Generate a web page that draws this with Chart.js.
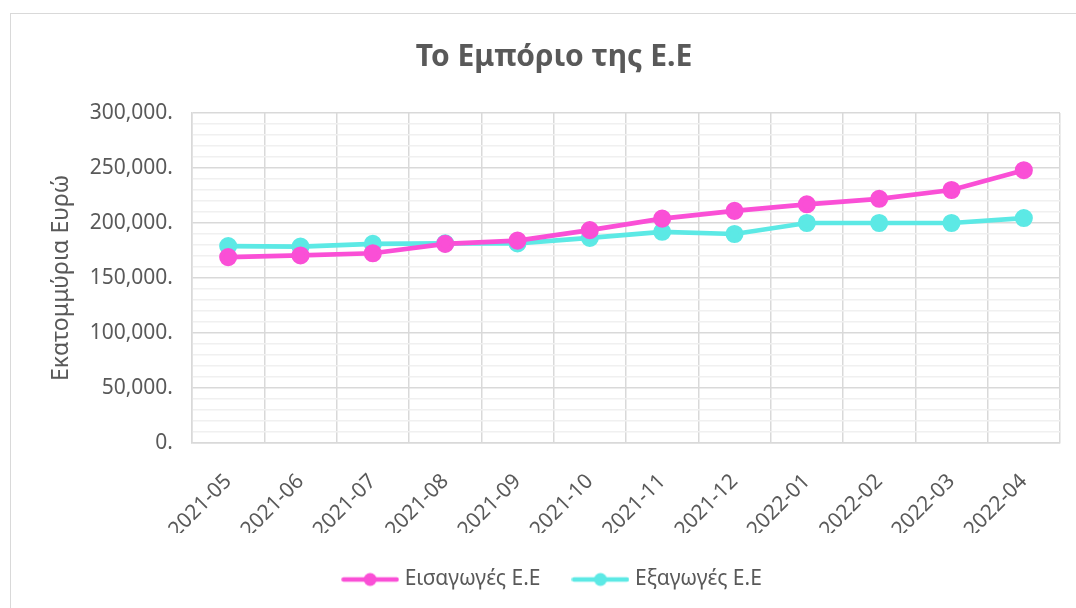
<!DOCTYPE html>
<html>
<head>
<meta charset="utf-8">
<script src="https://cdn.jsdelivr.net/npm/chart.js@4/dist/chart.umd.min.js"></script>
<style>
  html, body { margin: 0; padding: 0; background: #fff; }
  #wrap { position: absolute; left: 0; top: 0; width: 1076px; height: 608px; }
  #frame { position: absolute; left: 10px; top: 13px; width: 1100px; height: 640px;
           border: 1px solid #d9d9d9; pointer-events: none; }
</style>
</head>
<body>
<div id="wrap"><canvas id="tradeChart" width="1076" height="608"></canvas></div>
<div id="frame"></div>
<script>
var labels = ['2021-05','2021-06','2021-07','2021-08','2021-09','2021-10',
              '2021-11','2021-12','2022-01','2022-02','2022-03','2022-04'];
var imports = [169000, 170500, 172500, 181000, 184000, 193500,
               204000, 211000, 217000, 222000, 230000, 248000];
var exports = [179000, 178500, 181000, 181500, 181500, 186500,
               192000, 190000, 200000, 200000, 200000, 204500];

var textColor = '#595959';
var fontName = '"Noto Sans", "Open Sans", sans-serif';

// small line+marker picture for the legend entries
function legendMark(color) {
	var c = document.createElement('canvas');
	c.width = 58; c.height = 16;
	var g = c.getContext('2d');
	g.strokeStyle = color;
	g.lineWidth = 4.5;
	g.lineCap = 'round';
	g.beginPath(); g.moveTo(2.5, 8); g.lineTo(55.5, 8); g.stroke();
	g.fillStyle = color;
	g.beginPath(); g.arc(29, 8, 6.5, 0, Math.PI * 2); g.fill();
	return c;
}

var ctx = document.getElementById('tradeChart');
var tradeChart = new Chart(ctx, {
	type: 'line',
	data: {
		labels: labels,
		datasets: [{
			label: 'Εισαγωγές Ε.Ε',
			data: imports,
			borderColor: '#fa4fd6',
			backgroundColor: '#fa4fd6',
			borderWidth: 4.7,
			pointRadius: 6.7,
			pointHoverRadius: 6.7,
			pointStyle: 'circle',
			tension: 0
		}, {
			label: 'Εξαγωγές Ε.Ε',
			data: exports,
			borderColor: '#5ce9e5',
			backgroundColor: '#5ce9e5',
			borderWidth: 4.7,
			pointRadius: 6.7,
			pointHoverRadius: 6.7,
			pointStyle: 'circle',
			tension: 0
		}]
	},
	options: {
		responsive: false,
		animation: false,
		layout: { padding: { left: 48, right: 16, top: 0, bottom: 8 } },
		plugins: {
			title: {
				display: true,
				text: 'Το Εμπόριο της Ε.Ε',
				color: textColor,
				font: { family: fontName, size: 30, weight: 'bold' },
				padding: { top: 39, bottom: 38 }
			},
			legend: {
				position: 'bottom',
				labels: {
					color: textColor,
					font: { family: fontName, size: 21 },
					usePointStyle: true,
					pointStyleWidth: 48,
					boxHeight: 16,
					padding: 36,
					generateLabels: function(chart) {
						return chart.data.datasets.map(function(ds, i) {
							return {
								text: ds.label,
								fillStyle: ds.borderColor,
								strokeStyle: ds.borderColor,
								fontColor: textColor,
								pointStyle: legendMark(ds.borderColor),
								datasetIndex: i,
								hidden: false,
								lineWidth: 0
							};
						});
					}
				}
			},
			tooltip: { enabled: false }
		},
		scales: {
			x: {
				offset: true,
				grid: { offset: true, color: '#d9d9d9', drawTicks: false, lineWidth: 1.5 },
				border: { color: '#d9d9d9', width: 1.5 },
				ticks: {
					color: textColor,
					font: { family: fontName, size: 21 },
					minRotation: 45,
					maxRotation: 45,
					padding: 26
				},
				afterFit: function(scale) { scale.height = 90; }
			},
			y: {
				min: 0,
				max: 300000,
				grid: {
					drawTicks: false,
					color: function(c) {
						return c.tick && c.tick.value % 50000 === 0 ? '#d9d9d9' : '#f0f0f0';
					},
					lineWidth: 1.5
				},
				border: { color: '#d9d9d9', width: 1.5 },
				ticks: {
					stepSize: 10000,
					autoSkip: false,
					color: textColor,
					font: { family: fontName, size: 21 },
					padding: 19,
					callback: function(v) {
						return v % 50000 === 0 ? v.toLocaleString('en-US') + '.' : '';
					}
				},
				title: {
					display: true,
					text: 'Εκατομμύρια Ευρώ',
					color: textColor,
					font: { family: fontName, size: 23 },
					padding: { top: 0, bottom: 0 }
				},
				afterFit: function(scale) { scale.width = 144; }
			}
		}
	}
});
</script>
</body>
</html>
